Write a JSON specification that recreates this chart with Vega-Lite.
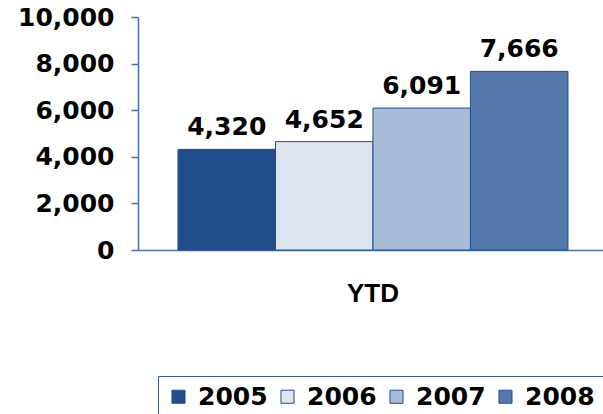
{
  "$schema": "https://vega.github.io/schema/vega-lite/v6.json",
  "width": 465,
  "height": 233,
  "autosize": {"type": "none"},
  "padding": {"left": 138, "top": 17, "right": 0, "bottom": 164},
  "background": "white",
  "data": {"values": [
    {"period": "YTD", "year": "2005", "value": 4320},
    {"period": "YTD", "year": "2006", "value": 4652},
    {"period": "YTD", "year": "2007", "value": 6091},
    {"period": "YTD", "year": "2008", "value": 7666}
  ]},
  "config": {"view": {"stroke": null}},
  "encoding": {
    "x": {"field": "period", "type": "nominal",
      "scale": {"paddingInner": 0, "paddingOuter": 0.0962, "align": 0.533},
      "axis": {"title": null, "ticks": false, "labelAngle": 0, "labelPadding": 30,
        "labelFont": "Liberation Sans", "labelFontWeight": "bold", "labelFontSize": 26,
        "labelColor": "#000000", "domainColor": "#4f6fa0", "domainWidth": 1.5}},
    "xOffset": {"field": "year", "type": "nominal", "scale": {"paddingInner": 0, "paddingOuter": 0}},
    "y": {"field": "value", "type": "quantitative",
      "scale": {"domain": [0, 10000], "nice": false},
      "axis": {"title": null, "values": [0, 2000, 4000, 6000, 8000, 10000], "format": ",d",
        "grid": false, "tickSize": 7, "tickColor": "#4f6fa0", "domainColor": "#4f6fa0",
        "domainWidth": 1.5, "tickWidth": 1.5, "labelPadding": 17,
        "labelFont": "DejaVu Sans", "labelFontWeight": "bold", "labelFontSize": 25,
        "labelColor": "#000000"}}
  },
  "layer": [
    {
      "mark": {"type": "bar", "stroke": "#1f4e8c", "strokeWidth": 1},
      "encoding": {
        "color": {"field": "year", "type": "nominal",
          "scale": {"domain": ["2005", "2006", "2007", "2008"],
            "range": ["#1f4e8c", "#dfe5f0", "#a9bcd8", "#5578ad"]},
          "legend": {"title": null, "orient": "none", "legendX": 20, "legendY": 359,
            "direction": "horizontal", "symbolType": "square", "symbolSize": 170,
            "symbolStrokeColor": "#1f4e8c", "symbolStrokeWidth": 1,
            "labelFont": "DejaVu Sans", "labelFontWeight": "bold", "labelFontSize": 25,
            "labelColor": "#000000", "labelOffset": 7, "columnPadding": 7,
            "strokeColor": "#3a5a8c", "padding": 8, "fillColor": "white",
            "symbolOpacity": 1}
        }
      }
    },
    {
      "mark": {"type": "text", "dy": -14, "font": "DejaVu Sans", "fontWeight": "bold",
        "fontSize": 25, "color": "#000000", "baseline": "alphabetic"},
      "encoding": {"text": {"field": "value", "type": "quantitative", "format": ",d"}}
    }
  ]
}
